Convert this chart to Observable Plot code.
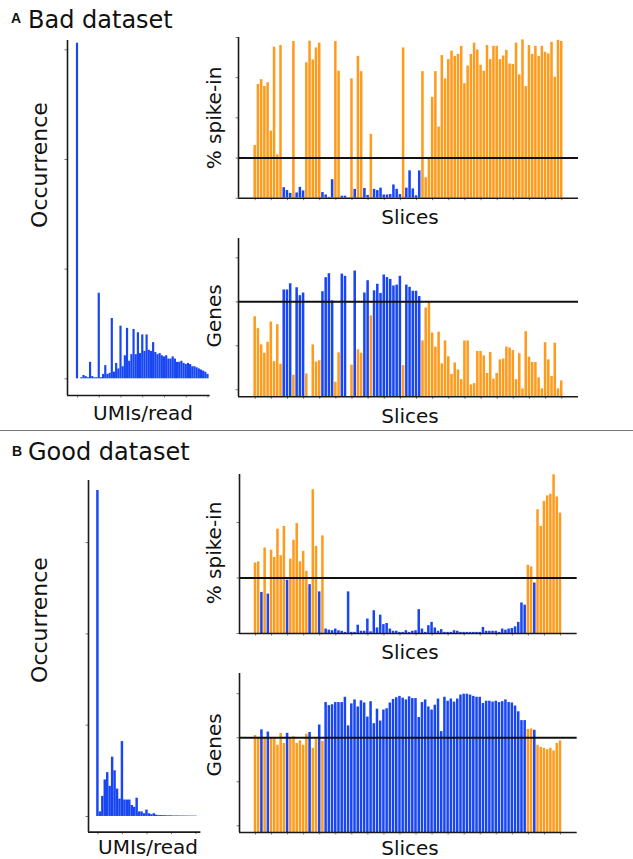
<!DOCTYPE html>
<html><head><meta charset="utf-8">
<script src="https://cdn.jsdelivr.net/npm/d3@7"></script>
<script src="https://cdn.jsdelivr.net/npm/@observablehq/plot@0.6"></script>
<style>
body{margin:0;background:#fff;font-family:"DejaVu Sans",sans-serif;}
#fig{position:relative;width:633px;height:859px;overflow:hidden;background:#fff;}
.lab{position:absolute;white-space:nowrap;color:#111;transform:translate(-50%,-50%);font-size:20px;line-height:1;}
.rot{transform:translate(-50%,-50%) rotate(-90deg);}
.big{font-size:22px;}
.title{position:absolute;white-space:nowrap;color:#111;transform:translateY(-50%);font-size:24px;line-height:1;}
.letter{position:absolute;white-space:nowrap;color:#111;transform:translate(-50%,-50%);font-size:14px;font-weight:bold;line-height:1;font-family:"Liberation Sans",Arial,sans-serif;}
.sep{position:absolute;left:0;width:633px;height:1px;background:#777;}
</style></head>
<body><div id="fig"></div>
<script>
// ---------------- data ----------------
// Bad dataset (A): per-slice % spike-in, detected genes, QC pass flag (1 = pass/blue, 0 = fail/orange)
const spikeA = [1.31,2.83,2.95,2.78,2.87,1.67,3.76,1.08,3.80,0.26,
 0.19,0.12,3.90,0.13,0.27,0.18,3.37,3.91,3.44,3.74,
 3.86,0.14,0.08,0.02,0.46,3.90,3.16,0.05,0.05,0,
 2.97,0.22,3.53,3.15,0.24,0.07,1.59,0.22,0.19,0.25,
 0.08,0.08,0.09,0.33,0.22,0.09,3.74,0.25,0.68,0.23,
 0.06,0.68,3.15,0.51,0.98,2.51,3.15,1.77,3.55,2.97,
 3.45,3.66,3.53,3.58,3.78,2.85,3.29,3.58,3.86,3.69,
 3.31,3.16,3.80,3.45,3.78,3.78,3.45,3.54,3.68,3.34,
 3.33,3.86,3.07,3.94,2.78,3.80,3.58,3.78,3.53,3.78,
 3.63,3.59,3.88,3.01,3.93,3.90];
const genesA = [2.66,2.39,2.02,1.83,2.08,2.54,1.64,2.48,1.58,3.27,
 3.27,3.41,1.33,3.32,3.14,3.20,1.36,0.70,2.02,1.63,
 1.66,3.23,3.55,3.64,3.02,1.17,1.84,3.63,3.58,null,
 1.56,3.70,1.91,1.83,3.20,3.48,2.68,3.25,3.40,3.19,
 3.61,3.55,3.51,3.36,3.38,3.58,1.55,3.38,3.33,3.24,
 3.24,3.12,2.11,2.86,3.00,2.29,1.97,2.31,1.59,2.11,
 1.75,1.35,1.61,1.45,1.23,2.11,2.11,1.11,1.14,1.87,
 1.87,1.77,1.37,1.85,1.24,1.37,1.68,1.70,1.97,1.95,
 1.89,1.23,1.82,1.02,2.32,1.74,1.62,1.62,1.27,1.02,
 2.07,1.68,1.30,2.06,1.02,1.20];
const passA = [0,0,0,0,0,0,0,0,0,1,
 1,1,0,1,1,1,0,0,0,0,
 0,1,1,1,1,0,0,1,1,0,
 0,1,0,0,1,1,0,1,1,1,
 1,1,1,1,1,1,0,1,1,1,
 1,1,0,0,0,0,0,0,0,0,
 0,0,0,0,0,0,0,0,0,0,
 0,0,0,0,0,0,0,0,0,0,
 0,0,0,0,0,0,0,0,0,0,
 0,0,0,0,0,0];
// UMIs/read histogram, bad dataset
const histA = [3.06,0,0.01,0.03,0.02,0.01,0.15,0.02,0.01,0.01,
 0.78,0.01,0.04,0.12,0.04,0.05,0.55,0.06,0.14,0.09,
 0.48,0.11,0.21,0.46,0.16,0.22,0.45,0.22,0.42,0.23,
 0.40,0.25,0.40,0.26,0.25,0.33,0.24,0.22,0.23,0.21,
 0.20,0.21,0.18,0.18,0.20,0.18,0.15,0.15,0.16,0.14,
 0.13,0.14,0.13,0.11,0.11,0.10,0.09,0.08,0.07,0.06,0.04];

// Good dataset (B)
const spikeB = [1.27,1.29,0.74,1.54,0.71,1.50,1.37,1.88,1.40,1.93,
 0.96,1.34,1.68,1.98,1.29,1.48,1.12,0.88,2.59,1.57,
 0.75,1.76,0.08,0.06,0.05,0.08,0.05,0.04,0.02,0.75,
 0.02,0.02,0.15,0.04,0.04,0.26,0.03,0.41,0.10,0.33,
 0.16,0.18,0.08,0.04,0.04,0.02,0.02,0.05,0.02,0.04,
 0.05,0.43,0.08,0.02,0.14,0.20,0.10,0.04,0.07,0.02,
 0.02,0.02,0.05,0.04,0.02,0.02,0.02,0.02,0.02,0.02,
 0.02,0.11,0.04,0.04,0.04,0.04,0.02,0.08,0.06,0.08,
 0.09,0.12,0.20,0.55,0.51,1.23,1.20,0.91,2.23,1.93,
 2.38,2.48,2.51,2.86,2.46,2.17];
const genesB = [3.05,3.01,3.18,2.99,3.13,2.99,2.99,2.83,3.10,2.87,
 3.10,2.99,3.02,2.87,2.93,2.83,3.08,3.12,2.76,2.97,
 3.29,2.92,3.80,3.73,3.75,3.80,3.80,3.80,3.92,3.27,
 3.77,3.86,3.70,3.84,3.79,3.47,3.82,3.32,3.65,3.38,
 3.63,3.66,3.79,3.87,3.91,3.94,3.90,3.86,3.93,3.89,
 3.89,3.46,3.80,3.86,3.70,3.63,3.74,3.88,3.14,3.92,
 3.83,3.88,3.81,3.88,3.97,3.99,3.99,3.97,3.94,3.92,
 3.92,3.78,3.83,3.83,3.81,3.83,3.80,3.82,3.86,3.80,
 3.79,3.72,3.59,3.39,3.39,3.19,3.20,3.17,2.83,2.78,
 2.76,2.73,2.76,2.70,2.87,2.93];
const passB = [0,0,1,0,1,0,0,0,0,0,
 1,0,0,0,0,0,0,1,0,0,
 1,0,1,1,1,1,1,1,1,1,
 1,1,1,1,1,1,1,1,1,1,
 1,1,1,1,1,1,1,1,1,1,
 1,1,1,1,1,1,1,1,1,1,
 1,1,1,1,1,1,1,1,1,1,
 1,1,1,1,1,1,1,1,1,1,
 1,1,1,1,1,0,0,1,0,0,
 0,0,0,0,0,0];
const histB = [3.57,0.05,0.22,0.40,0.48,0.33,0.65,0.50,0.30,0.19,
 0.82,0.18,0.18,0.18,0.12,0.10,0.20,0.05,0.05,0.03,
 0.07,0.03,0.02,0.03,0.015,0.01,0.01,0.01,0.008,0.008,
 0.008,0.006,0.006,0.006,0.005,0.005,0.005,0.004,0.004,0.004,0.004];

const spikeThreshold = 1;
const genesThreshold = 3;
const titles = {A: "Bad dataset", B: "Good dataset"};

// ---------------- drawing ----------------
const ORANGE = "#ff9b1c", BLUE = "#1846f2";
const fig = document.getElementById("fig");

function addText(cls, text, x, y) {
  const d = document.createElement("div");
  d.className = cls; d.textContent = text;
  d.style.left = x + "px"; d.style.top = y + "px";
  fig.appendChild(d);
}

function panel(f) {
  const mL = 8, mR = 4, mT = 4, mB = 8;
  const svg = Plot.plot({
    width: f.x1 - f.x0 + mL + mR,
    height: f.y1 - f.y0 + mT + mB,
    marginLeft: mL, marginRight: mR, marginTop: mT, marginBottom: mB,
    style: {background: "transparent", overflow: "visible"},
    x: {domain: f.xDomain},
    y: {domain: f.yDomain},
    color: {domain: [0, 1], range: [ORANGE, BLUE], type: "ordinal"},
    marks: [
      ...f.marks,
      Plot.axisX({ticks: f.xTicks, tickSize: 2.5, tickFormat: () => "", label: null, stroke: "#777"}),
      Plot.axisY({ticks: f.yTicks, tickSize: 2.5, tickFormat: () => "", label: null, stroke: "#777"}),
      Plot.ruleX([f.xDomain[0]], {stroke: "#1a1a1a", strokeWidth: 1.6}),
      Plot.ruleY([f.yDomain[0]], {stroke: "#1a1a1a", strokeWidth: 1.6})
    ]
  });
  svg.style.position = "absolute";
  svg.style.left = (f.x0 - mL) + "px";
  svg.style.top = (f.y0 - mT) + "px";
  fig.appendChild(svg);
}

const sliceTicks = d3.range(0, 96, 5);
function sliceRows(vals, pass) { return vals.map((v, i) => ({i, v, pass: pass[i]})); }
function sliceBars(rows) {
  return Plot.rect(rows, {
    x1: d => d.i - 0.5, x2: d => d.i + 0.5, y1: d => 0, y2: "v",
    fill: "pass", insetLeft: 0.35, insetRight: 0.35, clip: true
  });
}
function histBars(vals) {
  return Plot.rect(vals.map((v, b) => ({b, v})), {
    x1: d => d.b - 0.5, x2: d => d.b + 0.5, y1: d => 0, y2: "v", fill: BLUE
  });
}
function thresh(t) { return Plot.ruleY([t], {stroke: "#111", strokeWidth: 2}); }

// ---- A: bad dataset ----
panel({x0: 67.3, x1: 210, y0: 40, y1: 395, xDomain: [-4.6, 61], yDomain: [-0.152, 3.085],
  xTicks: d3.range(0, 61, 10), yTicks: [0, 1, 2, 3], marks: [histBars(histA)]});
panel({x0: 238.3, x1: 578.3, y0: 37, y1: 197.7, xDomain: [-5.17, 100.2], yDomain: [0, 4],
  xTicks: sliceTicks, yTicks: [0, 1, 2, 3, 4],
  marks: [sliceBars(sliceRows(spikeA, passA)), thresh(spikeThreshold)]});
panel({x0: 238.3, x1: 578.3, y0: 237.7, y1: 396, xDomain: [-5.17, 100.2], yDomain: [0.84, 4.44],
  xTicks: sliceTicks, yTicks: [1, 2, 3, 4],
  marks: [sliceBars(sliceRows(genesA, passA)), thresh(genesThreshold)]});

// ---- B: good dataset ----
panel({x0: 88.3, x1: 200.7, y0: 480, y1: 831.7, xDomain: [-3.84, 42], yDomain: [-0.172, 3.68],
  xTicks: d3.range(0, 41, 10), yTicks: [0, 1, 2, 3], marks: [histBars(histB)]});
panel({x0: 239, x1: 576.7, y0: 474.3, y1: 633.3, xDomain: [-4.98, 100.2], yDomain: [0, 2.865],
  xTicks: sliceTicks, yTicks: [0, 1, 2],
  marks: [sliceBars(sliceRows(spikeB, passB)), thresh(spikeThreshold)]});
panel({x0: 239, x1: 576.7, y0: 672.7, y1: 831.7, xDomain: [-4.98, 100.2], yDomain: [0.848, 4.46],
  xTicks: sliceTicks, yTicks: [1, 2, 3, 4],
  marks: [sliceBars(sliceRows(genesB, passB)), thresh(genesThreshold)]});

// ---- text ----
addText("letter", "A", 16, 18);
addText("title", titles.A, 28, 20);
addText("letter", "B", 17, 451);
addText("title", titles.B, 28, 452);
const sep = document.createElement("div"); sep.className = "sep"; sep.style.top = "430px"; fig.appendChild(sep);

addText("lab rot big", "Occurrence", 40, 165);
addText("lab", "UMIs/read", 143, 413);
addText("lab rot", "% spike-in", 214, 118);
addText("lab rot", "Genes", 214, 316);
addText("lab", "Slices", 410, 217);
addText("lab", "Slices", 410, 416);

addText("lab rot big", "Occurrence", 40, 620);
addText("lab", "UMIs/read", 148, 847);
addText("lab rot", "% spike-in", 214, 553);
addText("lab rot", "Genes", 214, 745);
addText("lab", "Slices", 410, 652);
addText("lab", "Slices", 410, 848);
</script></body></html>
